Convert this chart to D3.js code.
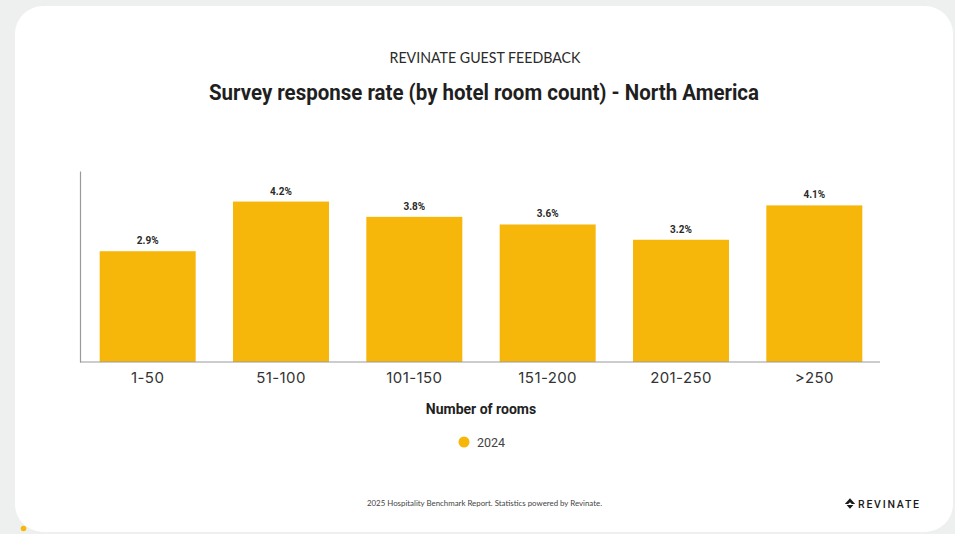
<!DOCTYPE html>
<html>
<head>
<meta charset="utf-8">
<script src="https://cdn.jsdelivr.net/npm/d3@7"></script>
<style>
  html, body { margin: 0; padding: 0; background: #eef0ef; }
  svg { display: block; }
</style>
</head>
<body>
<svg id="chart" width="955" height="534"></svg>
<script>
// Survey response rate by hotel size, North America, 2024
const categories = ["1-50", "51-100", "101-150", "151-200", "201-250", ">250"];
const rates2024 = [2.9, 4.2, 3.8, 3.6, 3.2, 4.1];
const seriesNames = ["2024"];
const yDomain = [0, 5];

const svg = d3.select("#chart");

// card background
svg.append("rect")
  .attr("x", 15).attr("y", 6)
  .attr("width", 938).attr("height", 526)
  .attr("rx", 28).attr("ry", 28)
  .attr("fill", "#ffffff");

// header
svg.append("text")
  .attr("x", 485).attr("y", 63)
  .attr("text-anchor", "middle")
  .attr("font-family", "Lato, 'Open Sans', sans-serif")
  .attr("font-size", 14.5)
  .attr("fill", "#2b2b2b")
  .attr("textLength", 191)
  .attr("lengthAdjust", "spacingAndGlyphs")
  .text("REVINATE GUEST FEEDBACK");

svg.append("text")
  .attr("x", 484).attr("y", 100)
  .attr("text-anchor", "middle")
  .attr("font-family", "Roboto, Inter, sans-serif")
  .attr("font-weight", 700)
  .attr("font-size", 22)
  .attr("fill", "#1f1f1f")
  .attr("textLength", 550)
  .attr("lengthAdjust", "spacingAndGlyphs")
  .text("Survey response rate (by hotel room count) - North America");

// plot area
const plot = { left: 80, right: 880, top: 171, bottom: 362 };

const x = d3.scaleBand()
  .domain(categories)
  .range([plot.left + 1, plot.right + 1])
  .paddingInner(0.28)
  .paddingOuter(0.14);

const y = d3.scaleLinear()
  .domain(yDomain)
  .range([plot.bottom, plot.top]);

const data = categories.map((c, i) => ({ cat: c, value: rates2024[i] }));

// bars
svg.append("g")
  .selectAll("rect")
  .data(data)
  .join("rect")
  .attr("x", d => x(d.cat))
  .attr("y", d => y(d.value))
  .attr("width", x.bandwidth())
  .attr("height", d => y(0) - y(d.value))
  .attr("fill", "#f6b70a");

// value labels
svg.append("g")
  .selectAll("text")
  .data(data)
  .join("text")
  .attr("x", d => x(d.cat) + x.bandwidth() / 2)
  .attr("y", d => y(d.value) - 7)
  .attr("text-anchor", "middle")
  .attr("font-family", "Roboto, sans-serif")
  .attr("font-weight", 700)
  .attr("font-size", 10)
  .attr("fill", "#2a2a2a")
  .text(d => d.value.toFixed(1) + "%");

// axes
const yAxis = svg.append("g")
  .attr("transform", `translate(${plot.left},0)`)
  .call(d3.axisLeft(y).tickValues([]).tickSizeOuter(0));
yAxis.select(".domain").attr("stroke", "#9a9a9a").attr("stroke-width", 1.2);

const xAxis = svg.append("g")
  .attr("transform", `translate(0,${plot.bottom})`)
  .call(d3.axisBottom(x).tickSize(0).tickSizeOuter(0).tickPadding(10));
xAxis.select(".domain")
  .attr("d", `M${plot.left},0H${plot.right}`)
  .attr("stroke", "#9a9a9a").attr("stroke-width", 1.2);
xAxis.selectAll("text")
  .attr("font-family", "Inter, Roboto, sans-serif")
  .attr("font-size", 15)
  .attr("letter-spacing", 0.4)
  .attr("fill", "#333")
  .attr("dy", "0.72em");

// axis title
svg.append("text")
  .attr("x", 481).attr("y", 414)
  .attr("text-anchor", "middle")
  .attr("font-family", "Roboto, sans-serif")
  .attr("font-weight", 700)
  .attr("font-size", 14)
  .attr("fill", "#222")
  .text("Number of rooms");

// legend
const legend = svg.append("g").attr("transform", "translate(464,442)");
legend.append("circle").attr("r", 5.5).attr("fill", "#f6b70a");
legend.append("text")
  .attr("x", 13).attr("y", 4.5)
  .attr("font-family", "Roboto, sans-serif")
  .attr("font-size", 12.5)
  .attr("fill", "#444")
  .text(seriesNames[0]);

// footer
svg.append("text")
  .attr("x", 484.5).attr("y", 506)
  .attr("text-anchor", "middle")
  .attr("font-family", "Lato, 'Open Sans', sans-serif")
  .attr("font-size", 8)
  .attr("fill", "#444")
  .attr("textLength", 235)
  .attr("lengthAdjust", "spacingAndGlyphs")
  .text("2025 Hospitality Benchmark Report. Statistics powered by Revinate.");

// logo
const logo = svg.append("g").attr("transform", "translate(850,503.5)");
logo.append("path")
  .attr("d", "M0,-5.2 L5.2,0.6 L1.8,0.6 L0,-1.2 L-1.8,0.6 L-5.2,0.6 Z M-3.4,1.4 L3.4,1.4 L0,5.2 Z")
  .attr("fill", "#1a1a1a");
svg.append("text")
  .attr("x", 858).attr("y", 507.5)
  .attr("font-family", "Roboto, sans-serif")
  .attr("font-weight", 500)
  .attr("font-size", 10.5)
  .attr("fill", "#1a1a1a")
  .attr("textLength", 61)
  .attr("lengthAdjust", "spacing")
  .text("REVINATE");

// corner accent dot
svg.append("circle")
  .attr("cx", 23.5).attr("cy", 528.5)
  .attr("r", 2.8)
  .attr("fill", "#f6b70a");
</script>
</body>
</html>
